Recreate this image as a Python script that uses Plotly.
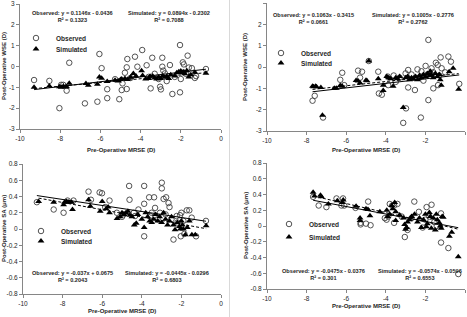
import plotly.graph_objects as go
from plotly.subplots import make_subplots

W, H = 467, 317

# ---------------- data ----------------
# Panel 1: Post-Operative WSE vs Pre-Operative MRSE (left)
obs1_x = [-9.3,-8.54,-8.04,-7.95,-7.85,-7.68,-7.55,-6.77,-6.15,-6.05,-5.94,-5.66,-5.66,-5.27,-5.06,-4.94,-4.9,-4.78,-4.69,-4.69,-4.66,-4.5,-4.28,-4.16,-3.92,-3.7,-3.6,-3.5,-3.42,-3.3,-3.1,-3.03,-2.99,-2.92,-2.92,-2.87,-2.79,-2.7,-2.54,-2.42,-2.3,-2.04,-2.04,-2.0,-1.9,-1.85,-1.75,-1.66,-1.6,-1.45,-1.3,-1.24,-0.75]
obs1_y = [-0.65,-0.69,-2.0,-0.88,-0.88,-1.16,0.18,-1.77,-1.69,0.6,-0.08,-1.09,-1.52,-0.61,-1.57,-1.13,-0.81,-0.3,-0.04,-1.08,0.36,-0.55,0.47,-0.01,0.79,0.06,-0.5,-1.05,0.42,-0.35,-0.6,-0.97,-1.1,0.42,-0.01,-0.2,-0.33,-0.7,0.07,-1.32,-0.5,1.03,-1.24,-0.6,0.2,0.1,-0.35,0.52,-0.05,-0.08,-0.55,-0.46,-0.12]
sim1_x = [-9.3,-8.54,-8.04,-7.95,-7.85,-7.75,-7.68,-7.55,-6.72,-6.6,-6.15,-6.05,-5.94,-5.66,-5.27,-5.1,-5.0,-4.94,-4.78,-4.66,-4.5,-4.36,-4.23,-3.95,-3.9,-3.75,-3.6,-3.53,-3.4,-3.3,-3.2,-3.1,-3.0,-2.9,-2.8,-2.7,-2.6,-2.5,-2.3,-2.2,-2.1,-2.0,-1.95,-1.9,-1.85,-1.8,-1.7,-1.6,-1.5,-1.3,-0.75]
sim1_y = [-1.0,-0.94,-0.97,-0.99,-0.96,-0.98,-0.97,-0.8,-0.81,-0.9,-0.85,-0.5,-0.56,-0.72,-0.66,-0.7,-0.62,-0.6,-0.57,-0.62,-0.52,-0.34,-0.45,-0.2,-0.43,-0.6,-0.57,-0.47,-0.45,-0.55,-0.6,-0.5,-0.57,-0.45,-0.52,-0.48,-0.57,-0.4,-0.45,-0.3,-0.25,-0.22,-0.3,-0.28,-0.25,-0.35,-0.2,-0.5,-0.4,-0.27,-0.32]

# Panel 2: Post-Operative WSE vs Pre-Operative MRSE (right)
obs2_x = [-7.7,-7.59,-7.17,-6.3,-6.2,-6.1,-5.4,-5.2,-5.3,-4.86,-4.38,-4.35,-4.2,-3.9,-3.88,-3.6,-3.5,-3.3,-3.12,-3.0,-2.98,-2.87,-2.87,-2.7,-2.53,-2.5,-2.4,-2.23,-2.2,-2.1,-1.99,-1.9,-1.85,-1.85,-1.69,-1.6,-1.6,-1.47,-1.38,-1.36,-1.3,-1.23,-1.18,-1.0,-0.84,-0.71,-0.29]
obs2_y = [-1.58,-1.35,-2.37,-0.6,-0.27,-0.85,-0.17,-0.22,-0.5,0.28,-0.22,-1.24,-1.3,-0.45,-0.85,-0.4,-0.7,-0.5,-2.62,-0.3,-1.94,-0.14,-0.96,-0.35,-1.08,-0.5,-0.11,-2.37,-0.2,-0.64,0.05,-0.35,1.27,-1.55,-0.06,-1.0,-0.25,0.2,0.1,-0.85,-0.4,0.45,-0.06,-0.25,0.49,0.25,-0.79]
sim2_x = [-7.7,-7.65,-7.55,-7.5,-7.28,-7.2,-6.6,-6.5,-6.3,-6.2,-5.5,-5.4,-5.3,-5.0,-4.95,-4.86,-4.38,-4.13,-4.13,-3.95,-3.85,-3.75,-3.63,-3.5,-3.4,-3.3,-3.12,-3.0,-2.9,-2.8,-2.7,-2.6,-2.5,-2.4,-2.3,-2.2,-2.1,-2.0,-1.9,-1.8,-1.75,-1.7,-1.6,-1.5,-1.4,-1.3,-1.25,-1.2,-0.8,-0.6,-0.32]
sim2_y = [-0.9,-0.93,-0.9,-0.93,-0.96,-2.26,-1.0,-1.0,-0.87,-0.9,-0.63,-0.66,-0.75,-0.62,-0.65,0.28,-0.55,-0.85,-1.1,-0.45,-0.5,-0.55,-0.9,-0.5,-0.55,-0.45,-1.9,-0.5,-0.45,-0.6,-0.5,-0.55,-0.45,-0.6,-0.4,-0.5,-0.35,-0.45,-0.3,-0.4,-0.2,-0.35,-0.5,-0.3,-0.45,-0.35,-0.6,-0.85,-0.22,-0.06,-1.04]

# Panel 3: Post-Operative SA vs Pre-Operative MRSE (left)
obs3_x = [-8.45,-7.95,-7.75,-7.45,-6.69,-6.57,-6.13,-6.01,-5.85,-5.63,-5.26,-5.0,-4.64,-4.62,-4.34,-4.17,-3.88,-3.88,-3.88,-3.63,-3.58,-3.38,-3.33,-3.08,-2.99,-2.99,-2.9,-2.77,-2.65,-2.6,-2.4,-2.24,-2.07,-2.03,-2.0,-1.85,-1.73,-1.6,-1.48,-1.26,-0.76,-9.3,-4.9,-4.4,-3.5,-3.2,-2.8,-2.5,-2.2,-1.9]
obs3_y = [0.24,0.2,0.35,0.35,0.46,0.36,0.45,0.44,0.27,0.35,0.2,0.15,0.53,0.36,0.16,0.24,0.53,0.31,-0.09,0.39,0.16,0.39,0.26,0.2,0.57,0.5,0.37,0.39,0.32,0.27,-0.13,0.16,0.17,-0.09,0.2,-0.06,0.23,0.23,0.14,-0.09,0.1,0.33,0.18,0.2,0.2,0.12,0.18,0.12,0.08,0.1]
sim3_x = [-9.21,-8.45,-7.95,-7.9,-7.8,-7.7,-7.55,-7.5,-6.69,-6.6,-6.1,-6.0,-5.8,-5.7,-5.63,-5.25,-5.1,-5.0,-4.9,-4.8,-4.7,-4.6,-4.5,-4.38,-4.28,-4.2,-4.0,-3.88,-3.8,-3.7,-3.6,-3.5,-3.4,-3.3,-3.2,-3.1,-3.0,-2.9,-2.8,-2.7,-2.6,-2.5,-2.4,-2.32,-2.2,-2.1,-2.05,-2.0,-1.95,-1.9,-1.8,-1.7,-1.6,-1.47,-1.3,-0.75]
sim3_y = [0.34,0.33,0.3,0.33,0.34,0.33,0.33,0.24,0.36,0.28,0.22,0.34,0.25,0.27,0.2,0.13,0.15,0.2,0.18,0.2,0.22,0.17,0.15,0.05,0.07,0.18,0.12,0.02,0.2,0.15,0.1,0.08,0.12,0.18,0.1,0.15,0.08,0.2,0.12,0.05,0.1,0.15,0.05,-0.01,0.08,0.03,0.0,0.1,0.05,0.0,-0.07,0.02,0.1,-0.07,-0.07,0.04]

# Panel 4: Post-Operative SA vs Pre-Operative MRSE (right)
obs4_x = [-7.67,-7.39,-7.0,-6.49,-6.24,-6.16,-6.1,-5.53,-5.27,-5.27,-5.0,-4.89,-4.77,-4.05,-3.96,-3.88,-3.8,-3.68,-3.58,-3.58,-3.41,-3.2,-3.04,-2.9,-2.7,-2.56,-2.33,-2.14,-2.0,-1.94,-1.8,-1.69,-1.55,-1.43,-1.21,-1.21,-0.84,-0.34]
obs4_y = [0.37,0.26,0.24,0.35,0.26,0.35,0.26,0.23,0.04,0.02,0.03,0.31,0.01,0.1,0.08,0.12,0.28,0.26,0.26,0.04,0.28,0.12,-0.14,-0.05,0.1,0.31,0.18,-0.02,0.08,0.24,0.12,0.27,0.05,0.0,0.16,-0.21,-0.28,-0.61]
sim4_x = [-7.67,-7.6,-7.3,-7.25,-6.9,-6.45,-6.2,-6.15,-5.5,-5.3,-5.3,-5.0,-4.9,-4.8,-4.3,-3.95,-3.9,-3.8,-3.7,-3.65,-3.55,-3.5,-3.5,-3.3,-3.1,-3.05,-3.0,-2.95,-2.9,-2.8,-2.7,-2.55,-2.4,-2.3,-2.2,-2.1,-2.0,-1.95,-1.9,-1.8,-1.75,-1.7,-1.6,-1.5,-1.45,-1.4,-1.3,-1.25,-1.2,-1.15,-1.1,-0.79,-0.67,-0.34]
sim4_y = [0.43,0.38,0.39,0.37,0.28,0.32,0.3,0.33,0.25,0.1,0.07,0.22,0.21,0.13,0.18,0.2,0.12,0.15,0.26,0.22,0.3,0.18,0.07,0.14,0.1,0.02,-0.04,-0.02,0.05,0.08,0.12,0.15,0.05,0.1,-0.02,0.08,0.15,-0.01,0.03,0.17,0.12,-0.03,0.1,-0.05,0.15,0.08,0.04,0.0,-0.03,0.12,0.11,-0.13,-0.08,-0.39]

# Linear fits (slope, intercept) and R² as printed on the chart
obs_slope = [0.1146, 0.1063, -0.037, -0.0475]
obs_icpt = [-0.0436, -0.3415, 0.0675, -0.0376]
obs_r2 = ["0.1323", "0.0661", "0.2043", "0.301"]
sim_slope = [0.0894, 0.1005, -0.0445, -0.0574]
sim_icpt = [-0.2302, -0.2776, -0.0296, -0.0596]
sim_r2 = ["0.7088", "0.2762", "0.6803", "0.6553"]

# Tick labels
x_ticks = [-10, -8, -6, -4, -2, 0]
x_ticktext = ["-10", "-8", "-6", "-4", "-2", "0"]
wse_ticks = [-3, -2, -1, 0, 1, 2, 3]
wse_ticktext = ["-3", "-2", "-1", "0", "1", "2", "3"]
sa_ticks = [-0.8, -0.6, -0.4, -0.2, 0, 0.2, 0.4, 0.6, 0.8]
sa_ticktext = ["-0.8", "-0.6", "-0.4", "-0.2", "0", "0.2", "0.4", "0.6", "0.8"]

x_title = "Pre-Operative MRSE (D)"
y_titles = ["Post-Operative WSE (D)", "Post-Operative WSE (D)", "Post-Operative SA (μm)", "Post-Operative SA (μm)"]
series_names = ["Observed", "Simulated"]

panels = [
    (obs1_x, obs1_y, sim1_x, sim1_y),
    (obs2_x, obs2_y, sim2_x, sim2_y),
    (obs3_x, obs3_y, sim3_x, sim3_y),
    (obs4_x, obs4_y, sim4_x, sim4_y),
]

# ---------------- layout helpers (pixel -> paper) ----------------
def px(x):
    return x / W

def py(y):
    return 1 - y / H

FONT = "Liberation Sans, Arial, sans-serif"
TXT = "#262626"

# plot-area boxes in pixels: (left, right, top, bottom)
boxes = [(20, 221, 4, 129), (267, 465, 3, 131), (23, 221, 164, 294), (267, 465, 163, 289)]
rc = [(1, 1), (1, 2), (2, 1), (2, 2)]

fig = make_subplots(rows=2, cols=2)

for i, (ox, oy, sx, sy) in enumerate(panels):
    r, c = rc[i]
    leg_o = "legend" if i == 0 else f"legend{2*i+1}"
    leg_s = f"legend{2*i+2}"
    fig.add_trace(go.Scatter(x=ox, y=oy, mode="markers", name="<b>" + series_names[0] + "</b>",
                             marker=dict(symbol="circle-open", size=5.5, color="#404040",
                                         line=dict(width=0.9, color="#404040")),
                             legend=leg_o, showlegend=True), row=r, col=c)
    fig.add_trace(go.Scatter(x=sx, y=sy, mode="markers", name="<b>" + series_names[1] + "</b>",
                             marker=dict(symbol="triangle-up", size=6, color="black"),
                             legend=leg_s, showlegend=True), row=r, col=c)
    # trend lines computed from the printed coefficients over the data range
    xo = [min(ox), max(ox)]
    fig.add_trace(go.Scatter(x=xo, y=[obs_slope[i] * v + obs_icpt[i] for v in xo], mode="lines",
                             line=dict(color="black", width=1), showlegend=False, hoverinfo="skip"),
                  row=r, col=c)
    xs = [min(sx), max(sx)]
    fig.add_trace(go.Scatter(x=xs, y=[sim_slope[i] * v + sim_icpt[i] for v in xs], mode="lines",
                             line=dict(color="black", width=1, dash="3px,2px"), showlegend=False,
                             hoverinfo="skip"),
                  row=r, col=c)

axis_common = dict(showgrid=False, zeroline=False, showline=True, linecolor="#868686", linewidth=1,
                   ticks="outside", ticklen=3, tickcolor="#868686", tickwidth=1,
                   tickfont=dict(family=FONT, size=6.5, color=TXT), automargin=False)

for i in range(4):
    l, rr, t, b = boxes[i]
    ax = "" if i == 0 else str(i + 1)
    fig.layout["xaxis" + ax].update(domain=[px(l), px(rr)], range=[-10, 0],
                                    tickvals=x_ticks, ticktext=x_ticktext, **axis_common)
    if i < 2:
        fig.layout["yaxis" + ax].update(domain=[py(b), py(t)], range=[-3, 3],
                                        tickvals=wse_ticks, ticktext=wse_ticktext, **axis_common)
    else:
        fig.layout["yaxis" + ax].update(domain=[py(b), py(t)], range=[-0.8, 0.8],
                                        tickvals=sa_ticks, ticktext=sa_ticktext, **axis_common)

# ---------------- annotations ----------------
annos = []
# x-axis titles (centre x, y)
xt_pos = [(121, 150), (366, 150), (122, 311), (366, 306)]
for (x, y) in xt_pos:
    annos.append(dict(x=px(x), y=py(y), xref="paper", yref="paper", text="<b>" + x_title + "</b>",
                      showarrow=False, font=dict(family=FONT, size=6, color=TXT),
                      xanchor="center", yanchor="middle"))
# y-axis titles
yt_pos = [(4, 66), (245, 67), (4, 229), (246, 226)]
for i, (x, y) in enumerate(yt_pos):
    annos.append(dict(x=px(x), y=py(y), xref="paper", yref="paper", text="<b>" + y_titles[i] + "</b>",
                      showarrow=False, textangle=-90, font=dict(family=FONT, size=6, color=TXT),
                      xanchor="center", yanchor="middle"))

def eq_text(name, m, b, r2):
    sign = "+" if b >= 0 else "-"
    return f"<b>{name}: y = {m}x {sign} {abs(b)}<br>R² = {r2}</b>"

eq_obs_pos = [(72, 16), (313, 19), (72, 276), (323, 274)]
eq_sim_pos = [(169, 16), (413, 19), (167, 276), (420, 274)]
for i in range(4):
    for (pos, nm, m, b, r2) in [(eq_obs_pos[i], series_names[0], obs_slope[i], obs_icpt[i], obs_r2[i]),
                                (eq_sim_pos[i], series_names[1], sim_slope[i], sim_icpt[i], sim_r2[i])]:
        annos.append(dict(x=px(pos[0]), y=py(pos[1]), xref="paper", yref="paper",
                          text=eq_text(nm, m, b, r2), showarrow=False, align="center",
                          font=dict(family=FONT, size=5.6, color=TXT),
                          xanchor="center", yanchor="middle"))

fig.update_layout(annotations=annos)

# ---------------- legends (one per entry) ----------------
leg_pos = [(34, 38), (34, 49), (279, 53), (279, 63), (39, 231), (39, 241), (287, 224), (287, 237)]
for k, (x, y) in enumerate(leg_pos):
    name = "legend" if k == 0 else f"legend{k+1}"
    fig.layout[name] = dict(x=px(x - 18), y=py(y), xanchor="left", yanchor="middle",
                            bgcolor="rgba(0,0,0,0)", borderwidth=0,
                            font=dict(family=FONT, size=6.5, color=TXT),
                            itemwidth=30, tracegroupgap=0)

fig.update_layout(
    width=W, height=H, margin=dict(l=0, r=0, t=0, b=0),
    paper_bgcolor="white", plot_bgcolor="white",
    font=dict(family=FONT, size=7, color=TXT),
    shapes=[dict(type="line", xref="paper", yref="paper", x0=px(229.5), x1=px(229.5), y0=0, y1=1,
                 line=dict(color="#d9d9d9", width=1))],
)

fig.write_html("out.html")
